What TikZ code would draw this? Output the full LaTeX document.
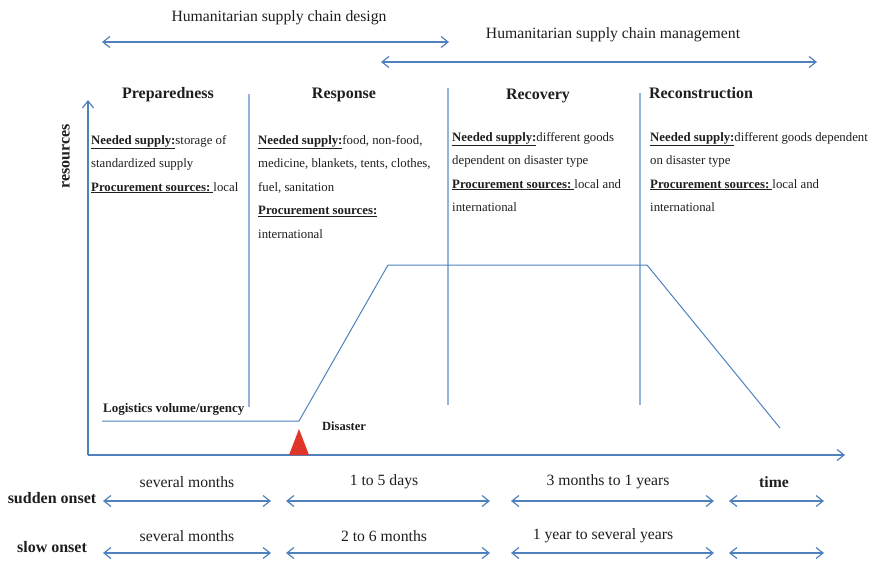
\documentclass[tikz,border=0pt]{standalone}
\usepackage{fontspec}
\setmainfont{Liberation Serif}
\usepackage{xcolor}
\definecolor{HSCline}{HTML}{4F81BD}
\definecolor{HSCphase}{HTML}{95B3D7}
\definecolor{HSCred}{HTML}{E0362A}
\definecolor{HSCtext}{HTML}{1E1E1E}
\usetikzlibrary{arrows.meta}

\newcommand{\hscNeed}{\underline{\textbf{Needed supply:}}}
\newcommand{\hscProc}{\underline{\textbf{Procurement sources:}\ }}

\tikzset{
  barb/.tip={Straight Barb[length=7pt, width=11pt]},
  span/.style={HSCline, line width=1.2pt, barb-barb},
  axis/.style={HSCline, line width=1.2pt, -barb},
  phaseline/.style={HSCphase, line width=1.4pt},
  volume/.style={HSCline, line width=1pt},
  label/.style={HSCtext, inner sep=0pt, font=\fontsize{15.7}{18}\selectfont},
  heading/.style={HSCtext, inner sep=0pt, font=\fontsize{16}{19}\selectfont\bfseries},
  block/.style={HSCtext, inner sep=0pt, anchor=base west, align=left,
    font=\fontsize{12.8}{23.5}\selectfont},
  tag/.style={HSCtext, inner sep=0pt, font=\fontsize{13}{15}\selectfont\bfseries},
  onset/.style={HSCtext, inner sep=0pt, font=\fontsize{16}{19}\selectfont\bfseries}
}

\begin{document}
\begin{tikzpicture}[x=1pt, y=-1pt]
  \useasboundingbox (0,0) rectangle (870,560);

  % Design / management spans
  \node[label] (design) at (279,18) {Humanitarian supply chain design};
  \coordinate (designL) at (102,42);
  \coordinate (designR) at (449,42);
  \draw[span] (designL) -- (designR);
  \node[label] (manage) at (613,35) {Humanitarian supply chain management};
  \coordinate (manageL) at (381,62);
  \coordinate (manageR) at (817,62);
  \draw[span] (manageL) -- (manageR);

  % Phase headings
  \node[heading] (prep)  at (168,95) {Preparedness};
  \node[heading] (resp)  at (344,95) {Response};
  \node[heading] (recov) at (538,96) {Recovery};
  \node[heading] (recon) at (701,93) {Reconstruction};

  % Phase separators
  \coordinate (sepA1) at (249,94);  \coordinate (sepA2) at (249,407);
  \coordinate (sepB1) at (448,88);  \coordinate (sepB2) at (448,405);
  \coordinate (sepC1) at (640,93);  \coordinate (sepC2) at (640,405);
  \draw[phaseline] (sepA1) -- (sepA2);
  \draw[phaseline] (sepB1) -- (sepB2);
  \draw[phaseline] (sepC1) -- (sepC2);

  % Supply texts (anchored on the last line)
  \node[block] (prepText) at (91,191)
    {\hscNeed storage of\\ standardized supply\\ \hscProc local};
  \node[block] (respText) at (258,238)
    {\hscNeed food, non-food,\\ medicine, blankets, tents, clothes,\\ fuel, sanitation\\
     \underline{\textbf{Procurement sources:}}\\ international};
  \node[block] (recovText) at (452,211.5)
    {\hscNeed different goods\\ dependent on disaster type\\ \hscProc local and\\ international};
  \node[block] (reconText) at (650,211.5)
    {\hscNeed different goods dependent\\ on disaster type\\ \hscProc local and\\ international};

  % Axes
  \coordinate (origin) at (88,455);
  \coordinate (yTop) at (88,100);
  \coordinate (xEnd) at (845,455);
  \draw[axis] (origin) -- (yTop);
  \draw[axis] (origin) -- (xEnd);
  \node[onset, rotate=90] (res) at (66,156) {resources};

  % Logistics volume curve
  \coordinate (lvStart) at (102,421);
  \coordinate (lvRise) at (299,421);
  \coordinate (lvTopL) at (388,265);
  \coordinate (lvTopR) at (647,265);
  \coordinate (lvEnd) at (780,428);
  \draw[volume] (lvStart) -- (lvRise) -- (lvTopL) -- (lvTopR) -- (lvEnd);
  \node[tag, anchor=west] (lv) at (103,409) {Logistics volume/urgency};

  % Disaster marker
  \fill[HSCred] (289,455) -- (299,429) -- (309,455) -- cycle;
  \node[tag, anchor=west, font=\fontsize{12.5}{15}\selectfont\bfseries] (dis) at (322,426) {Disaster};

  % Durations: sudden onset
  \node[onset] (sudden) at (52,498) {sudden onset};
  \foreach \a/\b/\n in {103/271/1, 286/490/2, 511/714/3, 729/824/4} {
    \coordinate (sL\n) at (\a,501);
    \coordinate (sR\n) at (\b,501);
    \draw[span] (sL\n) -- (sR\n);
  }
  \node[label] (s1) at (187,482) {several months};
  \node[label] (s2) at (384,482) {1 to 5 days};
  \node[label] (s3) at (608,482) {3 months to 1 years};
  \node[label, font=\fontsize{15.7}{18}\selectfont\bfseries] (time) at (774,482) {time};

  % Durations: slow onset
  \node[onset] (slow) at (52,547) {slow onset};
  \foreach \a/\b/\n in {103/271/1, 286/490/2, 511/714/3, 729/824/4} {
    \coordinate (wL\n) at (\a,553);
    \coordinate (wR\n) at (\b,553);
    \draw[span] (wL\n) -- (wR\n);
  }
  \node[label] (w1) at (187,536) {several months};
  \node[label] (w2) at (384,536) {2 to 6 months};
  \node[label] (w3) at (603,536) {1 year to several years};

\end{tikzpicture}
\end{document}
